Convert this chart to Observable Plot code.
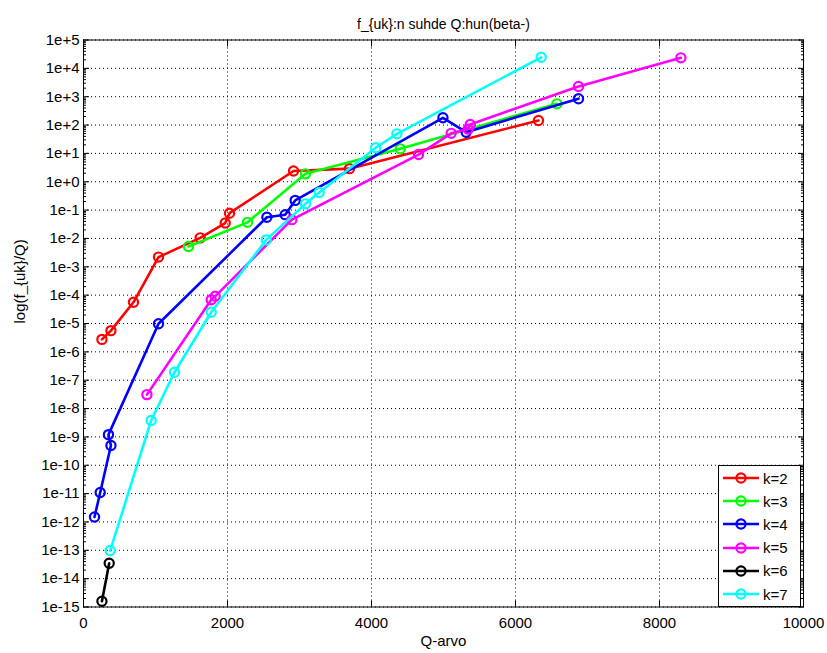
<!DOCTYPE html>
<html><head><meta charset="utf-8">
<script src="https://cdn.jsdelivr.net/npm/d3@7"></script>
<script src="https://cdn.jsdelivr.net/npm/@observablehq/plot@0.6"></script>
<style>
body{margin:0;background:#fff;}
#wrap{position:relative;width:827px;height:653px;font-family:"Liberation Sans",Arial,sans-serif;}
#legend{position:absolute;left:718px;top:465px;width:83px;height:142px;border:1px solid #000;background:#fff;box-sizing:border-box;}
.item{position:absolute;left:0;height:20px;display:flex;align-items:center;font-size:15px;}
.item svg{margin-left:4px;margin-right:4px;}
</style></head><body><div id="wrap"></div>
<script>
const titleText = "f_{uk}:n suhde Q:hun(beta-)";
const xLabelText = "Q-arvo";
const yLabelText = "log(f_{uk}/Q)";
const keys = ["k=2","k=3","k=4","k=5","k=6","k=7"];
const colors = ["#ff0000","#00ff00","#0000ff","#ff00ff","#000000","#00ffff"];

const q2 = [256, 381, 694, 1042, 1621, 1968, 2028, 2917, 3694, 6319];
const f2 = [2.75e-6, 5.6e-6, 5.6e-5, 2.2e-3, 1.05e-2, 3.5e-2, 7.8e-2, 2.4, 2.9, 145];
const q3 = [1458, 2278, 3083, 4399, 6575];
const f3 = [5.2e-3, 3.7e-2, 1.9, 14.5, 560];
const q4 = [153, 232, 381, 347, 1042, 2547, 2801, 2940, 4992, 5315, 6875];
const f4 = [1.5e-12, 1.1e-11, 5.0e-10, 1.2e-9, 9.8e-6, 5.6e-2, 6.9e-2, 0.22, 180, 56, 850];
const q5 = [881, 1774, 1829, 2894, 4653, 5107, 5343, 5371, 6875, 8297];
const f5 = [3.1e-8, 6.9e-5, 9.1e-5, 4.6e-2, 9.1, 51, 72, 105, 2300, 23500];
const q6 = [256, 357];
const f6 = [1.6e-15, 3.5e-14];
const q7 = [371, 940, 1264, 1774, 2538, 3083, 3274, 4058, 4353, 6357];
const f7 = [9.8e-14, 3.8e-9, 1.9e-7, 2.5e-5, 8.9e-3, 0.166, 0.42, 15.8, 49, 24500];

const xTicks = [0, 2000, 4000, 6000, 8000, 10000];
const xTickLabels = ["0", "2000", "4000", "6000", "8000", "10000"];
const yTickExp = [-15,-14,-13,-12,-11,-10,-9,-8,-7,-6,-5,-4,-3,-2,-1,0,1,2,3,4,5];
const yTickLabels = ["1e-15","1e-14","1e-13","1e-12","1e-11","1e-10","1e-9","1e-8","1e-7","1e-6","1e-5","1e-4","1e-3","1e-2","1e-1","1e+0","1e+1","1e+2","1e+3","1e+4","1e+5"];

const qs = [q2, q3, q4, q5, q6, q7];
const fs = [f2, f3, f4, f5, f6, f7];
const rows = keys.flatMap((k, i) => qs[i].map((q, j) => ({k, q, f: fs[i][j]})));

const yMajor = yTickExp.map(e => Math.pow(10, e));
const yMinor = yTickExp.slice(0, -1).flatMap(e => [2,3,4,5,6,7,8,9].map(m => m * Math.pow(10, e)));
const yFmt = d => yTickLabels[yMajor.findIndex(v => Math.abs(Math.log10(v) - Math.log10(d)) < 1e-6)];
const xFmt = d => xTickLabels[xTicks.indexOf(d)];
const xGrid = xTicks.slice(1, -1);
const dotted = {stroke: "#000", strokeOpacity: 1, strokeDasharray: "1,3", strokeWidth: 1};
const blank = () => "";

const chart = Plot.plot({
  width: 827, height: 653,
  marginLeft: 83, marginRight: 24, marginTop: 39.5, marginBottom: 46.5,
  style: {fontFamily: "'Liberation Sans', Arial, sans-serif", fontSize: "15px", background: "white", color: "black", overflow: "visible"},
  x: {domain: [0, 10000], label: null},
  y: {type: "log", domain: [1e-15, 1e5], label: null},
  color: {domain: keys, range: colors},
  marks: [
    Plot.gridY(yMajor, dotted),
    Plot.gridX(xGrid, dotted),
    Plot.axisY(yMinor, {anchor: "left", tickSize: -3, tickFormat: blank, label: null}),
    Plot.axisY(yMinor, {anchor: "right", tickSize: -3, tickFormat: blank, label: null}),
    Plot.axisY(yMajor, {anchor: "left", tickSize: -6, tickPadding: 10, tickFormat: yFmt, label: null}),
    Plot.axisY(yMajor, {anchor: "right", tickSize: -6, tickFormat: blank, label: null}),
    Plot.axisX(xTicks, {anchor: "bottom", tickSize: -6, tickPadding: 16, tickFormat: xFmt, label: null}),
    Plot.axisX(xTicks, {anchor: "top", tickSize: -6, tickFormat: blank, label: null}),
    Plot.frame({stroke: "#000"}),
    ...keys.flatMap(k => [
      Plot.line(rows.filter(r => r.k === k), {x: "q", y: "f", stroke: "k", strokeWidth: 2.6}),
      Plot.dot(rows.filter(r => r.k === k), {x: "q", y: "f", stroke: "k", r: 4.6, strokeWidth: 2.2})
    ]),
    Plot.text([titleText], {text: d => d, frameAnchor: "top", dy: -20.5, fontSize: 14}),
    Plot.text([xLabelText], {text: d => d, frameAnchor: "bottom", dy: 39, fontSize: 15}),
    Plot.text([yLabelText], {text: d => d, frameAnchor: "left", dx: -63, rotate: -90, fontSize: 15})
  ]
});
const wrap = document.getElementById("wrap");
wrap.appendChild(chart);

const legend = document.createElement("div");
legend.id = "legend";
keys.forEach((k, i) => {
  const item = document.createElement("div");
  item.className = "item";
  item.style.top = (2 + 23.2 * i) + "px";
  item.innerHTML = `<svg width="36" height="14"><line x1="0" y1="7" x2="36" y2="7" stroke="${colors[i]}" stroke-width="2.6"/><circle cx="18" cy="7" r="4.6" fill="none" stroke="${colors[i]}" stroke-width="2.2"/></svg><span>${k}</span>`;
  legend.appendChild(item);
});
wrap.appendChild(legend);
</script></body></html>
